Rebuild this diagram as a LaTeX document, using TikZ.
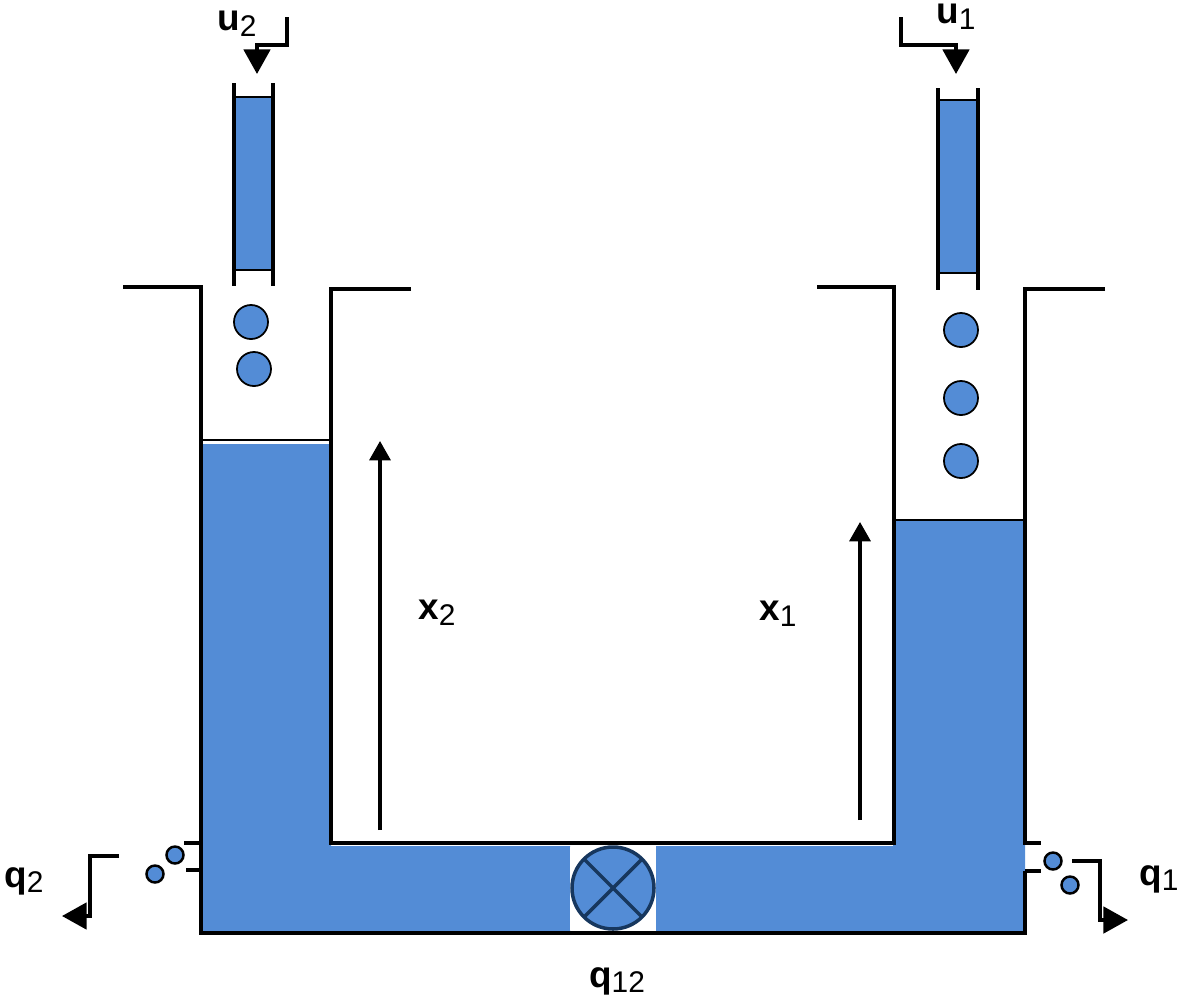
\documentclass[tikz,border=0pt]{standalone}
\usepackage{fontspec}
\setmainfont{Liberation Sans}
\usetikzlibrary{calc,arrows.meta}
\tikzset{>={Stealth[inset=0pt,length=7pt,width=7.5pt]}}
\definecolor{water}{HTML}{538CD6}
\definecolor{valveline}{HTML}{17375E}
\tikzset{wall/.style={line width=1.05pt},
  flow/.style={line width=.9pt,->},
  drop/.style={circle,draw,fill=water,inner sep=0pt,line width=.5pt,minimum size=.34cm},
  smalldrop/.style={drop,line width=.7pt,minimum size=.17cm},
  tag/.style={inner sep=0pt,font=\fontsize{10.5}{12}\selectfont}}
\newcommand*{\tanktag}[2]{\textbf{#1}\raisebox{-.3ex}{\fontsize{8.5}{9}\selectfont #2}}

\begin{document}
\begin{tikzpicture}[x=.01cm,y=-.01cm]
\useasboundingbox (0,0) rectangle (1181,1002);
% water
\fill[water] (201,444) -- (331,444) -- (331,846) -- (570,846) -- (570,931)
  -- (201,931) -- cycle;
\fill[water] (893,521) -- (1025,521) -- (1025,933) -- (656,933) -- (656,846)
  -- (893,846) -- cycle;
\coordinate (LT) at (201,287);
\coordinate (LB) at (201,933);
\coordinate (LI) at (331,289);
\coordinate (LC) at (331,843);
\coordinate (RI) at (894,287);
\coordinate (RC) at (894,843);
\coordinate (RT) at (1025,289);
\coordinate (RB) at (1025,933);
% tanks
\draw[wall] (123,287) -- (LT) -- (LB) -- (RB) -- (1025,871);
\draw[wall] (1105,289) -- (RT) -- (1025,843) -- (1041,843);
\draw[wall] (1025,871) -- (1041,871);
\draw[wall] (411,289) -- (LI) -- (LC) -- (RC) -- (RI) -- (817,287);
\draw[wall] (184,843) -- (201,843);
\draw[wall] (186,870) -- (201,870);
\draw[line width=.5pt] (201,440) -- (331,440);
\draw[line width=.5pt] (894,520) -- (1025,520);
% feed pipes
\fill[water] (236,97) rectangle (272,270);
\fill[water] (940,101) rectangle (977,273);
\draw[wall] (234,83) -- (234,286);
\draw[wall] (273,83) -- (273,286);
\draw[wall] (938,88) -- (938,290);
\draw[wall] (978,88) -- (978,290);
\draw[line width=.6pt] (234,97) -- (273,97);
\draw[line width=.6pt] (234,270) -- (273,270);
\draw[line width=.6pt] (938,100) -- (978,100);
\draw[line width=.6pt] (938,273) -- (978,273);
% valve
\coordinate (V) at (613,888);
\fill[white] (570,847) rectangle (656,930);
\draw[valveline,line width=1pt,fill=water] (V) circle (41);
\draw[valveline,line width=1pt] (V) ++(45:41) -- ++(225:82);
\draw[valveline,line width=1pt] (V) ++(135:41) -- ++(-45:82);
% drops
\node[drop] (d21) at (251,322) {};
\node[drop] (d22) at (254,369) {};
\node[drop] (d11) at (961,330) {};
\node[drop] (d12) at (961,398) {};
\node[drop] (d13) at (961,461) {};
\node[smalldrop] (s21) at (175,855) {};
\node[smalldrop] (s22) at (155,874) {};
\node[smalldrop] (s11) at (1053,861) {};
\node[smalldrop] (s12) at (1070,885) {};
% levels
\coordinate (X2a) at (380,830);
\coordinate (X2b) at (380,441);
\coordinate (X1a) at (860,820);
\coordinate (X1b) at (860,522);
\draw[flow,>={Stealth[inset=0pt,length=5.5pt,width=6pt]}] (X2a) -- (X2b);
\draw[flow,>={Stealth[inset=0pt,length=5.5pt,width=6pt]}] (X1a) -- (X1b);
% flows
\draw[wall,->] (287,17) -- (287,45) -- (257,45) -- (257,74);
\draw[wall,->] (901,17) -- (901,45) -- (956,45) -- (956,74);
\draw[wall,->] (119,856) -- (90,856) -- (90,916) -- (62,916);
\draw[wall,->] (1072,861) -- (1100,861) -- (1100,920) -- (1128,920);
% labels
\node[tag] (u2) at (237,24) {\tanktag{u}{2}};
\node[tag] (u1) at (956,17) {\tanktag{u}{1}};
\node[tag] (x2) at (437,613) {\tanktag{x}{2}};
\node[tag] (x1) at (778,614) {\tanktag{x}{1}};
\node[tag] (q2) at (24,881) {\tanktag{q}{2}};
\node[tag] (q1) at (1159,879) {\tanktag{q}{1}};
\node[tag] (q12) at (617,981) {\tanktag{q}{12}};
\end{tikzpicture}
\end{document}
